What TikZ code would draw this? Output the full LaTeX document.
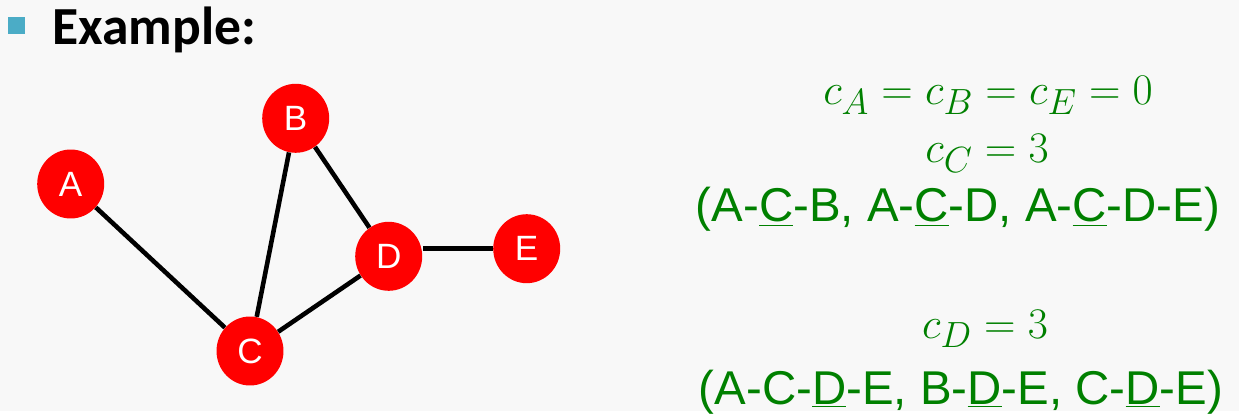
\documentclass[tikz,border=0pt]{standalone}
\usepackage{fontspec}
\setmainfont{Liberation Sans}
\newfontfamily\carlito{Carlito}
\usetikzlibrary{shapes.geometric}
\definecolor{exgreen}{RGB}{0,128,0}
\definecolor{bulletblue}{RGB}{75,172,198}
\definecolor{slidegrey}{RGB}{248,248,248}
\definecolor{nodered}{RGB}{255,0,0}

\begin{document}
\begin{tikzpicture}[x=0.02cm,y=-0.02cm,
  vertex/.style={ellipse,fill=nodered,minimum width=1.34cm,minimum height=1.38cm,inner sep=0pt,text=white,font=\fontsize{20}{20}\selectfont},
  link/.style={line width=2.6pt,black},
  mathline/.style={text=exgreen,font=\fontsize{27.5}{27.5}\selectfont,anchor=base},
  pathline/.style={text=exgreen,font=\fontsize{27}{27}\selectfont,anchor=base}]
\fill[slidegrey] (0,0) rectangle (1239,411);
\fill[bulletblue] (8,17) rectangle (25,34);
\node[font=\carlito\bfseries\fontsize{30.5}{30.5}\selectfont,anchor=base west,inner sep=0pt] (title) at (52,45) {Example:};

\node[vertex] (A) at (70.7,184) {A};
\node[vertex] (B) at (295.7,118.3) {B};
\node[vertex] (C) at (250,351) {C};
\node[vertex] (D) at (388.7,256.3) {D};
\node[vertex] (E) at (526.7,248.7) {E};

\draw[link] (A) -- (C);
\draw[link] (B) -- (C);
\draw[link] (B) -- (D);
\draw[link] (C) -- (D);
\draw[link] (E) -- (E -| D.east);

\node[mathline] (cabe) at (988,105) {$c_A = c_B = c_E = 0$};
\node[mathline] (cc) at (987,163) {$c_C = 3$};
\node[pathline] (pathsc) at (958,222) {(A-\underline{C}-B, A-\underline{C}-D, A-\underline{C}-D-E)};
\node[mathline] (cd) at (985,338) {$c_D = 3$};
\node[pathline] (pathsd) at (961,404) {(A-C-\underline{D}-E, B-\underline{D}-E, C-\underline{D}-E)};

\end{tikzpicture}
\end{document}
